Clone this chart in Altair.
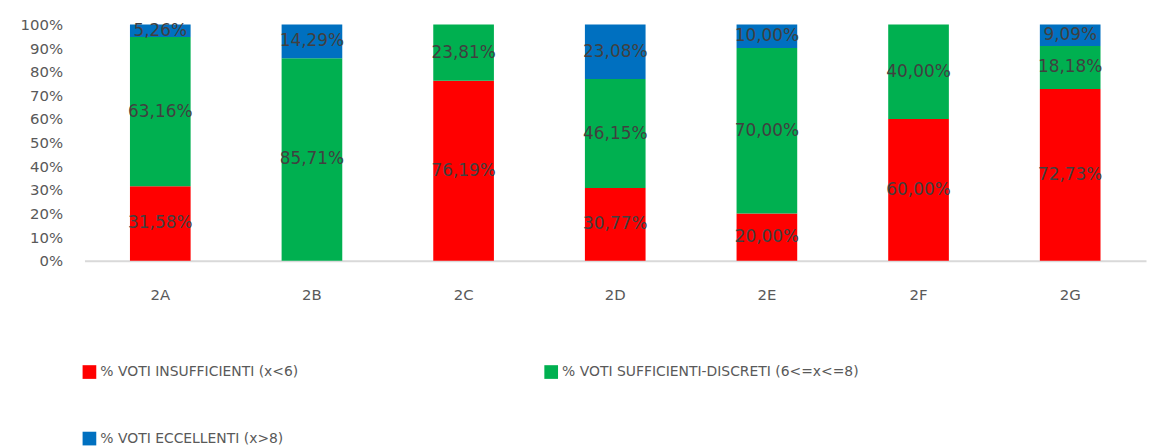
import altair as alt
import pandas as pd

classes = ["2A", "2B", "2C", "2D", "2E", "2F", "2G"]
series = [
    "% VOTI INSUFFICIENTI (x<6)",
    "% VOTI SUFFICIENTI-DISCRETI (6<=x<=8)",
    "% VOTI ECCELLENTI (x>8)",
]
insufficienti = [31.58, 0.0, 76.19, 30.77, 20.00, 60.00, 72.73]
sufficienti = [63.16, 85.71, 23.81, 46.15, 70.00, 40.00, 18.18]
eccellenti = [5.26, 14.29, 0.0, 23.08, 10.00, 0.0, 9.09]
colors = ["#FF0000", "#00B050", "#0070C0"]

rows = []
for si, (name, vals) in enumerate(zip(series, [insufficienti, sufficienti, eccellenti])):
    for c, v in zip(classes, vals):
        rows.append({
            "classe": c,
            "serie": name,
            "ord": si,
            "val": v,
            "lab": (f"{v:.2f}".replace(".", ",") + "%") if v > 0 else "",
        })
df = pd.DataFrame(rows)

# legend grid is filled column by column: order entries so rows read
# INSUFFICIENTI, SUFFICIENTI / ECCELLENTI
legend_order = [series[0], series[2], series[1]]
legend_colors = [colors[0], colors[2], colors[1]]

FONT = "DejaVu Sans"

x_axis = alt.Axis(labelAngle=0, labelFontSize=15, labelColor="#595959", labelFont=FONT,
                  domainColor="#D9D9D9", domainWidth=2, ticks=False, labelPadding=27)
x_scale = alt.Scale(paddingInner=0.6, paddingOuter=0.3)
y_axis = alt.Axis(values=list(range(0, 101, 10)), labelExpr="datum.value + '%'",
                  grid=False, domain=False, ticks=False, labelFontSize=15,
                  labelColor="#595959", labelFont=FONT, labelPadding=22,
                  labelOverlap=False, labelFlush=False)
y_scale = alt.Scale(domain=[0, 100], nice=False)

base = alt.Chart(df).transform_stack(
    stack="val", groupby=["classe"], as_=["y0", "y1"], sort=[alt.SortField("ord")]
)

bars = base.mark_bar(stroke=None).encode(
    x=alt.X("classe:N", sort=classes, title=None, scale=x_scale, axis=x_axis),
    y=alt.Y("y0:Q", title=None, scale=y_scale, axis=y_axis),
    y2="y1:Q",
    color=alt.Color("serie:N", sort=legend_order,
                    scale=alt.Scale(domain=legend_order, range=legend_colors),
                    legend=alt.Legend(title=None, orient="none", legendX=-2, legendY=343,
                                      columns=2, columnPadding=247, rowPadding=53,
                                      symbolType="square", symbolSize=190,
                                      symbolStrokeWidth=0, labelFontSize=14,
                                      labelColor="#595959", labelFont=FONT,
                                      labelLimit=500, symbolOpacity=1)),
)

labels = base.transform_calculate(mid="(datum.y0 + datum.y1) / 2").mark_text(
    fontSize=17, color="#404040", font=FONT
).encode(
    x=alt.X("classe:N", sort=classes, title=None, scale=x_scale, axis=x_axis),
    y=alt.Y("mid:Q", title=None, scale=y_scale, axis=y_axis),
    text="lab:N",
)

chart = alt.layer(bars, labels).properties(
    width=1069, height=238,
    autosize=alt.AutoSizeParams(type="none"),
    padding={"left": 77, "top": 15, "right": 2, "bottom": 200},
).configure_view(stroke=None)

chart.save("out.html", embed_options={"renderer": "svg", "actions": False})
